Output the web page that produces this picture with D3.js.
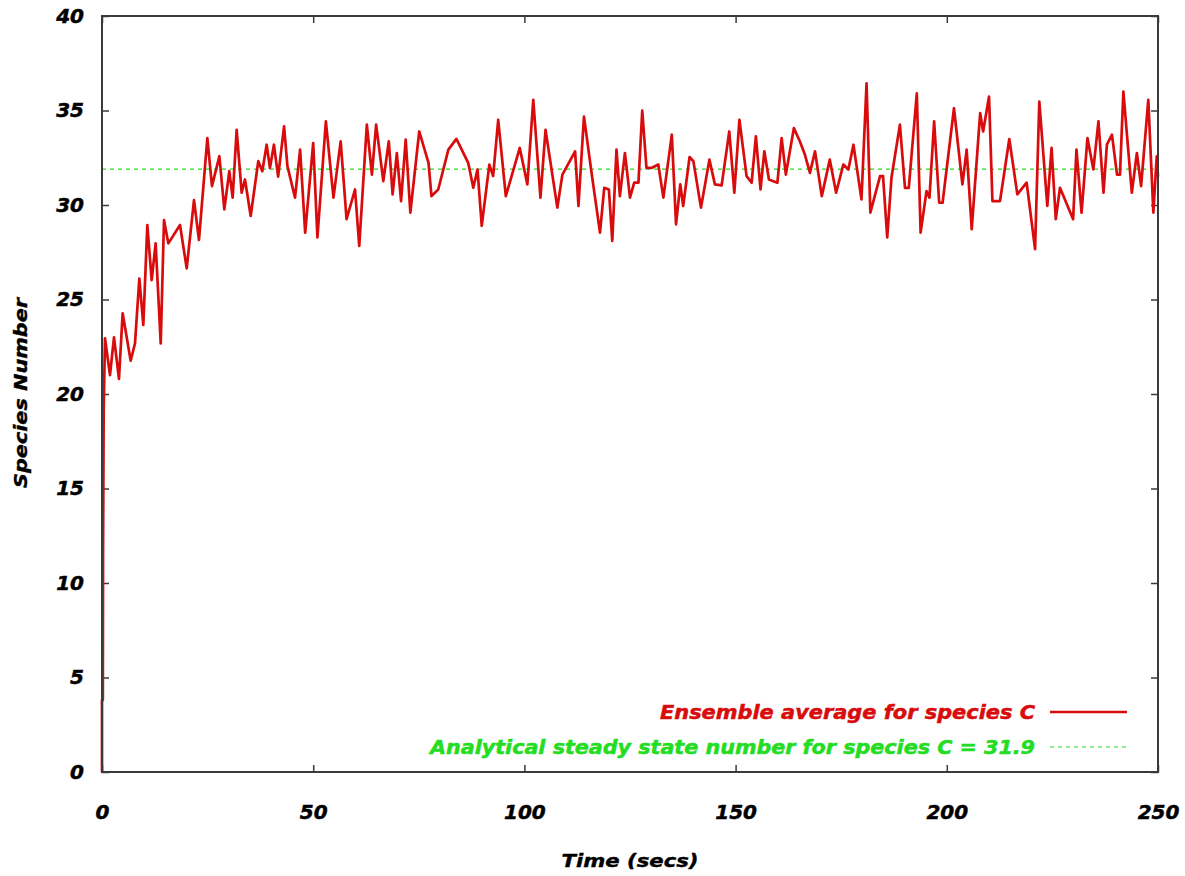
<!DOCTYPE html>
<html>
<head>
<meta charset="utf-8">
<script src="https://cdn.jsdelivr.net/npm/d3@7"></script>
<style>
  body { margin: 0; background: #fff; }
  text { font-family: "DejaVu Sans", sans-serif; font-weight: bold; font-style: italic; }
</style>
</head>
<body>
<svg id="chart" width="1185" height="876"></svg>
<script>
// time points (secs), peaks and troughs
const times = [0, 0, 0.2, 0.25, 0.4, 0.71, 1.89, 2.84, 4.02, 4.89, 6.79, 7.81, 8.84, 9.78,
  10.73, 11.76, 12.7, 13.9, 14.68, 15.7, 18.47, 20.05, 21.78, 22.96, 24.94, 26.04, 27.78,
  28.96, 30.14, 30.93, 31.88, 33.06, 33.85, 35.2, 37.0, 37.95, 38.98, 39.76, 40.7, 41.7,
  43.1, 43.9, 45.7, 46.9, 48.1, 50.0, 51.0, 53.0, 54.8, 56.5, 57.9, 59.9, 60.9, 62.7,
  63.9, 64.9, 66.6, 67.9, 68.8, 69.8, 70.8, 71.9, 73.0, 75.1, 77.3, 78.0, 79.6, 82.0,
  83.9, 86.7, 87.9, 88.9, 89.9, 91.7, 92.6, 93.8, 95.6, 98.9, 100.7, 102.1, 103.8, 105.0,
  107.8, 109.0, 112.0, 112.8, 114.1, 115.9, 117.9, 118.9, 120.0, 120.8, 121.8, 122.6,
  123.8, 125.0, 126.0, 127.0, 127.9, 128.9, 130.1, 131.7, 132.9, 134.9, 135.9, 136.9,
  137.6, 139.1, 140.0, 141.8, 143.8, 145.1, 146.7, 148.5, 149.7, 150.9, 152.6, 153.8,
  154.8, 155.9, 156.8, 157.9, 159.9, 160.9, 161.9, 163.8, 165.2, 166.4, 167.6, 168.8,
  170.4, 172.3, 173.8, 175.5, 176.7, 177.9, 179.8, 181.0, 181.9, 184.2, 184.9, 185.9,
  186.9, 188.9, 190.1, 191.0, 192.9, 193.8, 195.2, 195.9, 197.0, 198.2, 199.0, 201.7,
  203.7, 204.7, 205.9, 207.9, 208.6, 210.0, 210.8, 212.6, 214.8, 216.7, 218.9, 220.9,
  221.9, 223.8, 224.8, 225.8, 226.8, 229.9, 230.7, 231.9, 233.3, 234.7, 235.9, 237.1,
  237.9, 239.1, 240.3, 241.0, 241.8, 243.8, 245.0, 246.0, 247.7, 248.9, 249.7, 250];
const ensemble = [0, 3.8, 3.8, 11.5, 19.1, 22.95, 21.0, 23.0, 20.8, 24.27, 21.76, 22.68, 26.1, 23.65,
  28.94, 26.03, 27.97, 22.68, 29.2, 27.97, 28.94, 26.65, 30.26, 28.15, 33.54, 31.0, 32.58,
  29.77, 31.79, 30.39, 33.98, 30.65, 31.35, 29.42, 32.32, 31.79, 33.19, 31.96, 33.19, 31.5,
  34.16, 32.05, 30.39, 32.93, 28.54, 33.28, 28.28, 34.42, 30.39, 33.37, 29.25, 30.82, 27.84, 34.25,
  31.61, 34.25, 31.26, 33.37, 30.56, 32.75, 30.21, 33.46, 29.6, 33.89, 32.23, 30.47, 30.82, 32.93,
  33.5, 32.23, 30.91, 31.88, 28.9, 32.14, 31.53, 34.51, 30.47, 33.02, 31.09, 35.56, 30.39, 33.98,
  29.86, 31.61, 32.84, 29.95, 34.68, 31.7, 28.54, 30.91, 30.82, 28.1, 32.93, 30.47,
  32.75, 30.39, 31.18, 31.18, 35.0, 31.96, 31.96, 32.14, 30.39, 33.72, 28.98, 31.09,
  29.95, 32.54, 32.32, 29.86, 32.4, 31.09, 31.04, 33.89, 30.65, 34.51, 31.53, 31.18,
  33.63, 30.82, 32.84, 31.35, 31.18, 33.54, 31.61, 34.07, 33.37, 32.67, 31.7, 32.84,
  30.47, 32.4, 30.65, 32.14, 31.88, 33.19, 30.3, 36.44, 29.6, 31.53, 31.53, 28.28,
  31.44, 34.25, 30.91, 30.91, 35.91, 28.54, 30.74, 30.39, 34.42, 30.12, 30.12, 35.12,
  31.09, 32.93, 28.72, 34.86, 33.89, 35.74, 30.21, 30.21, 33.49, 30.56, 31.18, 27.67,
  35.47, 29.95, 33.02, 29.25, 30.91, 29.25, 32.93, 29.6, 33.54, 31.88, 34.42, 30.65,
  33.19, 33.72, 31.61, 31.61, 36.0, 30.65, 32.75, 31.0, 35.56, 29.6, 32.58, 31.5];
const steadyState = 31.9;
const xTicks = [0, 50, 100, 150, 200, 250];
const yTicks = [0, 5, 10, 15, 20, 25, 30, 35, 40];
const legendLabels = ["Ensemble average for species C",
  "Analytical steady state number for species C = 31.9"];

const svg = d3.select('#chart')
const pl = 102, pr = 1158, pt = 16, pb = 772

const x = d3.scaleLinear().domain([0, 250]).range([pl, pr])
const y = d3.scaleLinear().domain([0, 40]).range([pb, pt])

const red = '#d80c0c', green = '#22dd22', frame = '#3a3a3a'

// inward ticks on all four sides
svg.append('g').attr('transform', `translate(0,${pb})`)
  .call(d3.axisBottom(x).tickValues(xTicks).tickSizeInner(-7).tickSizeOuter(0).tickPadding(33))
svg.append('g').attr('transform', `translate(0,${pt})`)
  .call(d3.axisTop(x).tickValues(xTicks).tickSizeInner(-7).tickSizeOuter(0).tickFormat(''))
svg.append('g').attr('transform', `translate(${pl},0)`)
  .call(d3.axisLeft(y).tickValues(yTicks).tickSizeInner(-7).tickSizeOuter(0).tickPadding(18))
svg.append('g').attr('transform', `translate(${pr},0)`)
  .call(d3.axisRight(y).tickValues(yTicks).tickSizeInner(-7).tickSizeOuter(0).tickFormat(''))

svg.selectAll('.domain').remove()
svg.selectAll('.tick line').attr('stroke', frame).attr('stroke-width', 1.5)
svg.selectAll('.tick text').attr('font-size', 20).attr('fill', '#000')
  .attr('stroke', '#000').attr('stroke-width', 0.5)
  .attr('font-family', '"DejaVu Sans", sans-serif').attr('font-weight', 'bold').attr('font-style', 'italic')

// steady state level
svg.append('line')
  .attr('x1', x(0)).attr('x2', x(250))
  .attr('y1', y(steadyState)).attr('y2', y(steadyState))
  .attr('stroke', green).attr('stroke-width', 1.2).attr('stroke-dasharray', '4,4')

const line = d3.line().x((d, i) => x(times[i])).y(d => y(d))
svg.append('path').datum(ensemble)
  .attr('d', line)
  .attr('fill', 'none').attr('stroke', red).attr('stroke-width', 2.7)
  .attr('stroke-linejoin', 'round')

// frame
svg.append('rect')
  .attr('x', pl).attr('y', pt).attr('width', pr - pl).attr('height', pb - pt)
  .attr('fill', 'none').attr('stroke', frame).attr('stroke-width', 2)

// legend
const lg = svg.append('g')
lg.append('text').attr('x', 1035).attr('y', 719).attr('text-anchor', 'end')
  .attr('font-size', 19).attr('fill', red).attr('stroke', red).attr('stroke-width', 0.5)
  .attr('textLength', 375).attr('lengthAdjust', 'spacingAndGlyphs').text(legendLabels[0])
lg.append('line').attr('x1', 1050).attr('x2', 1127).attr('y1', 712).attr('y2', 712)
  .attr('stroke', red).attr('stroke-width', 2.5)
lg.append('text').attr('x', 1035).attr('y', 754).attr('text-anchor', 'end')
  .attr('font-size', 19).attr('fill', green).attr('stroke', green).attr('stroke-width', 0.5)
  .attr('textLength', 605).attr('lengthAdjust', 'spacingAndGlyphs').text(legendLabels[1])
lg.append('line').attr('x1', 1050).attr('x2', 1127).attr('y1', 747).attr('y2', 747)
  .attr('stroke', green).attr('stroke-width', 1.2).attr('stroke-dasharray', '4,4')

// axis titles
svg.append('text').attr('x', 630).attr('y', 867).attr('text-anchor', 'middle')
  .attr('font-size', 18).attr('fill', '#000').attr('stroke', '#000').attr('stroke-width', 0.4)
  .attr('textLength', 137).attr('lengthAdjust', 'spacingAndGlyphs').text('Time (secs)')
svg.append('text').attr('transform', 'translate(27,393) rotate(-90)').attr('text-anchor', 'middle')
  .attr('font-size', 18).attr('fill', '#000').attr('stroke', '#000').attr('stroke-width', 0.4)
  .attr('textLength', 190).attr('lengthAdjust', 'spacingAndGlyphs').text('Species Number')
</script>
</body>
</html>
